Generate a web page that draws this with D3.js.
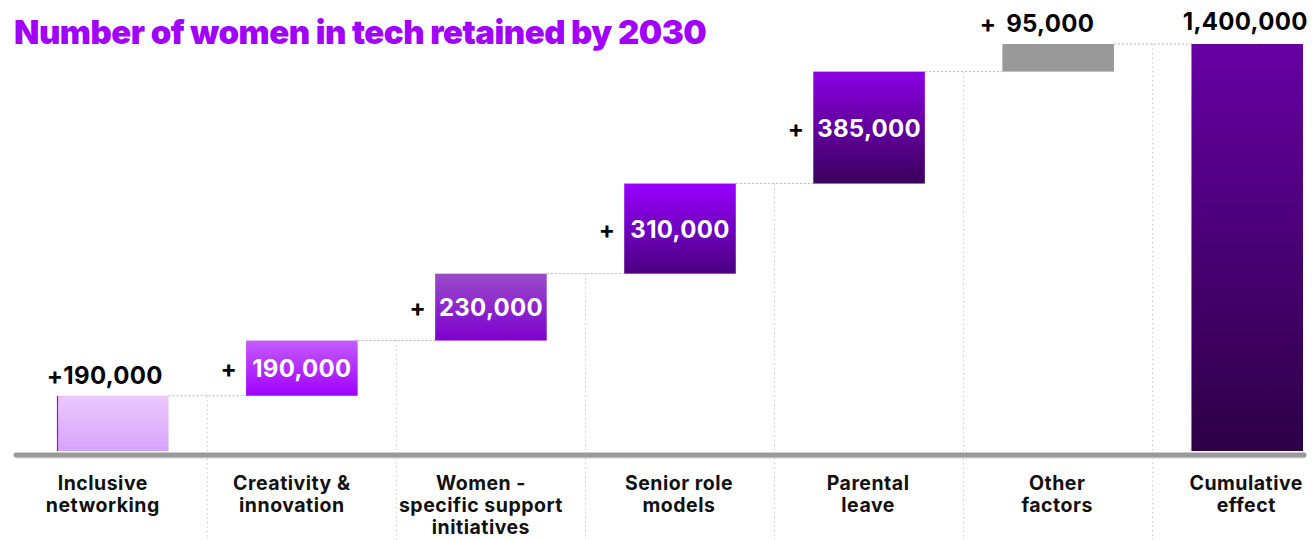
<!DOCTYPE html>
<html>
<head>
<meta charset="utf-8">
<script src="https://cdn.jsdelivr.net/npm/d3@7"></script>
<style>
  body { margin: 0; background: #fff; }
  svg text { font-family: Inter, "Noto Sans", sans-serif; }
</style>
</head>
<body>
<div id="chart"></div>
<script>
// data
var categories = [
    ["Inclusive", "networking"],
    ["Creativity &", "innovation"],
    ["Women -", "specific support", "initiatives"],
    ["Senior role", "models"],
    ["Parental", "leave"],
    ["Other", "factors"],
    ["Cumulative", "effect"]
];
var increments = [190000, 190000, 230000, 310000, 385000, 95000];
var total = 1400000;

// gradient stops per bar (top, bottom)
var barColors = [
    ["#ecc8fd", "#d7a3fb"],
    ["#c45cff", "#a000ff"],
    ["#9b4bc9", "#7e00cf"],
    ["#9800ff", "#4a0080"],
    ["#8a00e2", "#3b005c"],
    ["#999999", "#999999"],
    ["#6600a4", "#2d0046"]
];

var width = 1313, height = 540;
var fmt = d3.format(",");

// build waterfall rows
var rows = [];
var run = 0;
increments.forEach(function(v, i) {
    rows.push({ key: categories[i].join(" "), lines: categories[i], start: run, end: run + v, value: v, i: i });
    run += v;
});
rows.push({ key: categories[6].join(" "), lines: categories[6], start: 0, end: total, value: total, i: 6 });

var x = d3.scaleBand()
    .domain(rows.map(d => d.key))
    .range([57, 1303])
    .paddingInner(0.41)
    .paddingOuter(0);

var y = d3.scaleLinear()
    .domain([0, total])
    .range([451, 44]);

var svg = d3.select("#chart")
    .append("svg")
    .attr("width", width)
    .attr("height", height);

// gradients
var defs = svg.append("defs");
barColors.forEach(function(c, i) {
    var g = defs.append("linearGradient")
        .attr("id", "grad" + i)
        .attr("x1", 0).attr("y1", 0).attr("x2", 0).attr("y2", 1);
    g.append("stop").attr("offset", "0%").attr("stop-color", c[0]);
    g.append("stop").attr("offset", "100%").attr("stop-color", c[1]);
});

// column separators
var seps = rows.slice(0, -1).map(function(d, i) {
    return {
        x: (x(d.key) + x.bandwidth() + x(rows[i + 1].key)) / 2,
        level: d.end
    };
});
svg.append("g")
    .selectAll("line")
    .data(seps)
    .enter()
    .append("line")
    .attr("x1", d => d.x)
    .attr("x2", d => d.x)
    .attr("y1", d => y(d.level))
    .attr("y2", height)
    .attr("stroke", "#c8c8c8")
    .attr("stroke-width", 1)
    .attr("stroke-dasharray", "1.5,3");

// connectors
svg.append("g")
    .selectAll("line")
    .data(rows.slice(0, -1))
    .enter()
    .append("line")
    .attr("x1", d => x(d.key) + x.bandwidth())
    .attr("x2", (d, i) => x(rows[i + 1].key))
    .attr("y1", d => y(d.end))
    .attr("y2", d => y(d.end))
    .attr("stroke", "#b4b4b4")
    .attr("stroke-width", 1)
    .attr("stroke-dasharray", "2,2");

// bars
svg.append("g")
    .selectAll("rect")
    .data(rows)
    .enter()
    .append("rect")
    .attr("x", d => x(d.key))
    .attr("y", d => y(d.end))
    .attr("width", x.bandwidth())
    .attr("height", d => y(d.start) - y(d.end))
    .attr("fill", d => "url(#grad" + d.i + ")");

// purple left edge on first bar
svg.append("line")
    .attr("x1", x(rows[0].key) + 0.5)
    .attr("x2", x(rows[0].key) + 0.5)
    .attr("y1", y(rows[0].end))
    .attr("y2", y(0))
    .attr("stroke", "#a100ff")
    .attr("stroke-width", 1.2);

// axis line
svg.append("line")
    .attr("x1", 16).attr("x2", 1305)
    .attr("y1", 458).attr("y2", 458)
    .attr("stroke", "#dcdcdc")
    .attr("stroke-width", 1.5);
svg.append("line")
    .attr("x1", 16).attr("x2", 1304)
    .attr("y1", 455).attr("y2", 455)
    .attr("stroke", "#999")
    .attr("stroke-width", 5)
    .attr("stroke-linecap", "round");

// value labels
var labels = svg.append("g")
    .attr("font-weight", 700)
    .attr("font-size", 24)
    .attr("letter-spacing", 0.3);

rows.forEach(function(d) {
    var cx = x(d.key) + x.bandwidth() / 2;
    if (d.i === 0) {
        labels.append("text")
            .attr("x", cx - 8).attr("y", y(d.end) - 12)
            .attr("text-anchor", "middle")
            .attr("fill", "#000")
            .text("+" + fmt(d.value));
    } else if (d.i === 6) {
        labels.append("text")
            .attr("x", cx - 2).attr("y", y(d.end) - 14)
            .attr("text-anchor", "middle")
            .attr("fill", "#000")
            .text(fmt(d.value));
    } else if (d.i === 5) {
        labels.append("text")
            .attr("x", x(d.key) - 6).attr("y", y(d.end) - 12)
            .attr("text-anchor", "end")
            .attr("fill", "#000")
            .text("+");
        labels.append("text")
            .attr("x", cx - 8).attr("y", y(d.end) - 12)
            .attr("text-anchor", "middle")
            .attr("fill", "#000")
            .text(fmt(d.value));
    } else {
        var cy = (y(d.start) + y(d.end)) / 2;
        labels.append("text")
            .attr("x", x(d.key) - 9).attr("y", cy + 9)
            .attr("text-anchor", "end")
            .attr("fill", "#000")
            .text("+");
        labels.append("text")
            .attr("x", cx).attr("y", cy + 9)
            .attr("text-anchor", "middle")
            .attr("fill", "#fff")
            .text(fmt(d.value));
    }
});

// category labels
var cats = svg.append("g")
    .attr("font-weight", 700)
    .attr("font-size", 19.5)
    .attr("letter-spacing", 0.5)
    .attr("fill", "#111");

rows.forEach(function(d) {
    var t = cats.append("text")
        .attr("y", 490)
        .attr("text-anchor", "middle");
    d.lines.forEach(function(line, j) {
        t.append("tspan")
            .attr("x", x(d.key) + x.bandwidth() / 2 - (d.i < 3 ? 10 : 1))
            .attr("dy", j === 0 ? 0 : 22)
            .text(line);
    });
});

// title
svg.append("text")
    .attr("x", 14)
    .attr("y", 44)
    .attr("font-size", 33)
    .attr("font-weight", 900)
    .attr("fill", "#a100ff")
    .attr("letter-spacing", -0.5)
    .text("Number of women in tech retained by 2030");
</script>
</body>
</html>
